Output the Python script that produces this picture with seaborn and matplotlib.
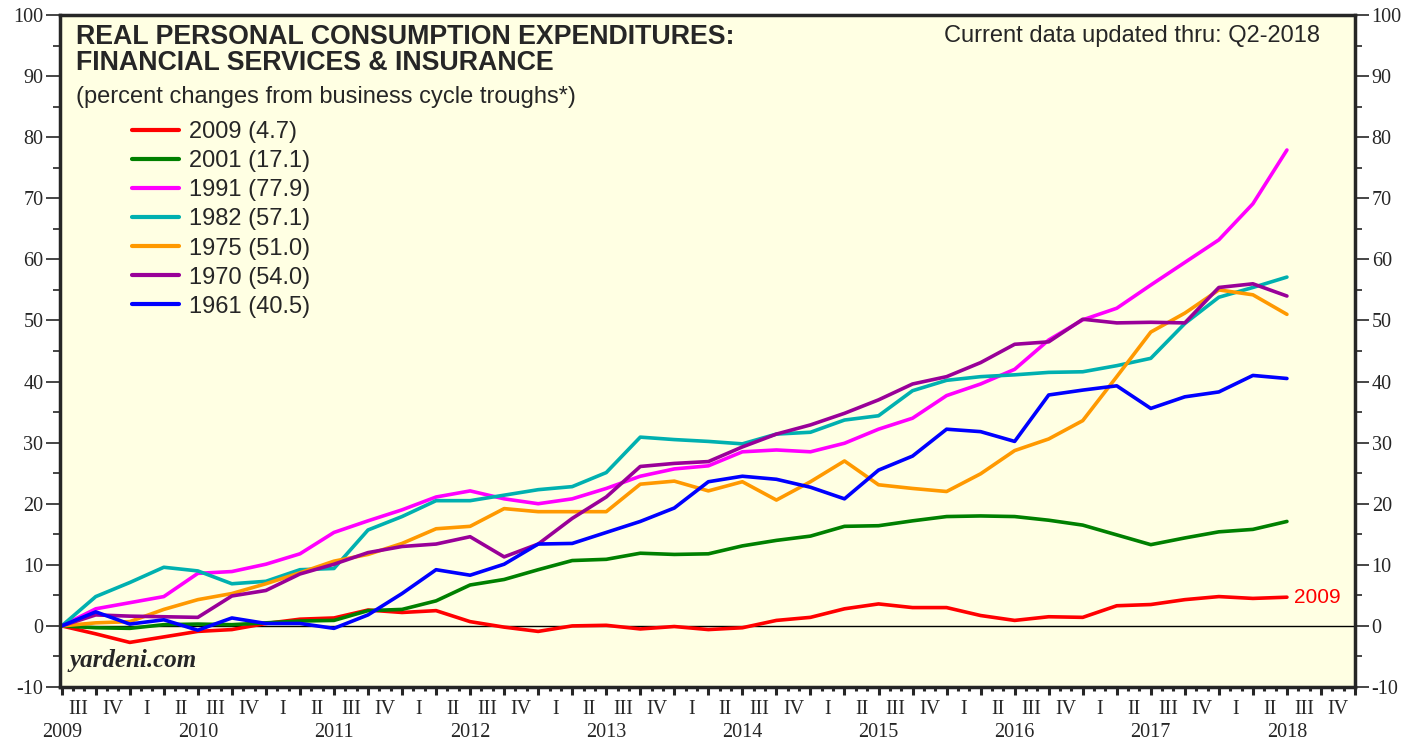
import pandas as pd
import seaborn as sns
import matplotlib.pyplot as plt

# quarters since the business-cycle trough (0 = trough quarter, 36 = Q2-2018 for 2009 cycle)
quarter = list(range(37))

c2009 = [0, -1.3, -2.7, -1.8, -0.9, -0.6, 0.4, 1.1, 1.3, 2.6, 2.2, 2.5, 0.7, -0.2, -0.9, 0, 0.1,
         -0.5, -0.1, -0.6, -0.3, 0.9, 1.4, 2.8, 3.6, 3.0, 3.0, 1.7, 0.9, 1.5, 1.4, 3.3, 3.5, 4.3,
         4.8, 4.5, 4.7]
c2001 = [0, -0.3, -0.4, 0.2, 0.3, 0.2, 0.5, 0.8, 0.9, 2.5, 2.7, 4.1, 6.7, 7.6, 9.2, 10.7, 10.9,
         11.9, 11.7, 11.8, 13.1, 14.0, 14.7, 16.3, 16.4, 17.2, 17.9, 18.0, 17.9, 17.3, 16.5, 14.9,
         13.3, 14.4, 15.4, 15.8, 17.1]
c1991 = [0, 2.8, 3.8, 4.8, 8.6, 8.9, 10.1, 11.8, 15.3, 17.2, 19.0, 21.1, 22.1, 20.8, 20.0, 20.8,
         22.5, 24.5, 25.7, 26.2, 28.5, 28.8, 28.5, 29.9, 32.2, 34.0, 37.7, 39.6, 42.0, 46.8, 50.1,
         52.0, 55.8, 59.5, 63.2, 69.1, 77.9]
c1982 = [0, 4.8, 7.1, 9.6, 9.0, 6.9, 7.3, 9.2, 9.4, 15.7, 17.9, 20.5, 20.5, 21.4, 22.3, 22.8,
         25.1, 30.9, 30.5, 30.2, 29.8, 31.4, 31.7, 33.7, 34.4, 38.5, 40.2, 40.8, 41.1, 41.5, 41.6,
         42.6, 43.8, 49.5, 53.8, 55.4, 57.1]
c1975 = [0, 0.5, 0.7, 2.7, 4.3, 5.3, 6.9, 8.7, 10.6, 11.7, 13.5, 15.9, 16.3, 19.2, 18.7, 18.7,
         18.7, 23.2, 23.7, 22.1, 23.6, 20.6, 23.6, 27.0, 23.1, 22.5, 22.0, 24.9, 28.7, 30.6, 33.6,
         40.8, 48.1, 51.2, 55.0, 54.2, 51.0]
c1970 = [0, 1.8, 1.6, 1.5, 1.4, 4.9, 5.8, 8.5, 10.1, 12.0, 13.0, 13.4, 14.6, 11.3, 13.4, 17.6,
         21.1, 26.1, 26.6, 26.9, 29.3, 31.4, 32.9, 34.8, 37.0, 39.6, 40.8, 43.1, 46.1, 46.5, 50.2,
         49.6, 49.7, 49.6, 55.4, 56.0, 54.0]
c1961 = [0, 2.3, 0.3, 1.0, -0.7, 1.3, 0.4, 0.4, -0.4, 1.8, 5.3, 9.2, 8.3, 10.1, 13.4, 13.5,
         15.3, 17.1, 19.3, 23.6, 24.5, 24.0, 22.7, 20.8, 25.5, 27.8, 32.2, 31.8, 30.2, 37.8, 38.6,
         39.3, 35.6, 37.5, 38.3, 41.0, 40.5]

cycles = ["2009", "2001", "1991", "1982", "1975", "1970", "1961"]
series = [c2009, c2001, c1991, c1982, c1975, c1970, c1961]
colors = ["#FF0000", "#008000", "#FF00FF", "#00B0B0", "#FF9900", "#990099", "#0000FF"]

quarter_names = ["III", "IV", "I", "II"]
years = list(range(2009, 2019))

labels = [f"{c} ({s[-1]:.1f})" for c, s in zip(cycles, series)]
df = pd.DataFrame({lab: s for lab, s in zip(labels, series)})
df["quarter"] = quarter
long = df.melt(id_vars="quarter", var_name="cycle", value_name="pct")

sns.set_style("ticks")
plt.rcParams["font.family"] = ["Liberation Sans", "DejaVu Sans"]
plt.rcParams["axes.unicode_minus"] = False

fig = plt.figure(figsize=(14.26, 7.44), dpi=100)
ax = fig.add_axes([60 / 1426, 57 / 744, 1295 / 1426, 672 / 744])
ax.set_facecolor("#FFFFE3")

sns.lineplot(data=long, x="quarter", y="pct", hue="cycle", hue_order=labels,
             palette=dict(zip(labels, colors)), linewidth=2.6, ax=ax)
ax.axhline(0, color="black", lw=1, zorder=1)

ax.set_xlim(-0.05, 38)
ax.set_ylim(-10, 100)
ax.set_xlabel("")
ax.set_ylabel("")

for sp in ax.spines.values():
    sp.set_linewidth(2.5)
    sp.set_visible(True)

serif = "Liberation Serif"
ax.set_yticks(range(-10, 101, 10))
ax.set_yticks(range(-5, 100, 10), minor=True)
ax.tick_params(axis="y", which="both", direction="out", left=True, right=True,
               labelleft=True, labelright=True, width=1.2, labelsize=14.5)
ax.tick_params(axis="y", which="major", length=10, pad=2)
ax.tick_params(axis="y", which="minor", length=5)
for t in ax.get_yticklabels():
    t.set_fontfamily(serif)

ax.set_xticks(range(0, 39))
ax.set_xticks([q + m / 3 for q in range(38) for m in (1, 2)], minor=True)
ax.set_xticklabels([])
ax.tick_params(axis="x", which="major", direction="out", length=6, width=2.2)
ax.tick_params(axis="x", which="minor", direction="out", length=3, width=2.2)

for i in range(38):
    ax.annotate(quarter_names[i % 4], xy=(i + 0.5, 0), xycoords=("data", "axes fraction"),
                xytext=(0, -16.5), textcoords="offset points", ha="center", va="center",
                fontsize=14.5, family=serif)
for k, y in enumerate(years):
    ax.annotate(str(y), xy=(4 * k, 0), xycoords=("data", "axes fraction"),
                xytext=(0, -32.5), textcoords="offset points", ha="center", va="center",
                fontsize=14.5, family=serif)

leg = ax.legend(loc="upper left", bbox_to_anchor=(0.048, 0.856), frameon=False,
                fontsize=17, handlelength=2.0, handletextpad=0.45, labelspacing=0.3,
                borderaxespad=0)
for line in leg.get_lines():
    line.set_linewidth(3)

ax.text(0.012, 0.987, "REAL PERSONAL CONSUMPTION EXPENDITURES:\nFINANCIAL SERVICES & INSURANCE",
        transform=ax.transAxes, ha="left", va="top", fontsize=19.3, fontweight="bold",
        linespacing=1.0)
ax.text(0.012, 0.894, "(percent changes from business cycle troughs*)",
        transform=ax.transAxes, ha="left", va="top", fontsize=17)
ax.text(0.973, 0.985, "Current data updated thru: Q2-2018", transform=ax.transAxes,
        ha="right", va="top", fontsize=17)
ax.text(0.007, 0.022, "yardeni.com", transform=ax.transAxes, ha="left", va="bottom",
        fontsize=18, fontweight="bold", fontstyle="italic", family=serif)
ax.annotate(cycles[0], xy=(quarter[-1], c2009[-1]), xytext=(5, 0), textcoords="offset points",
            ha="left", va="center", color=colors[0], fontsize=15)

fig.savefig("out.png", dpi=100)
